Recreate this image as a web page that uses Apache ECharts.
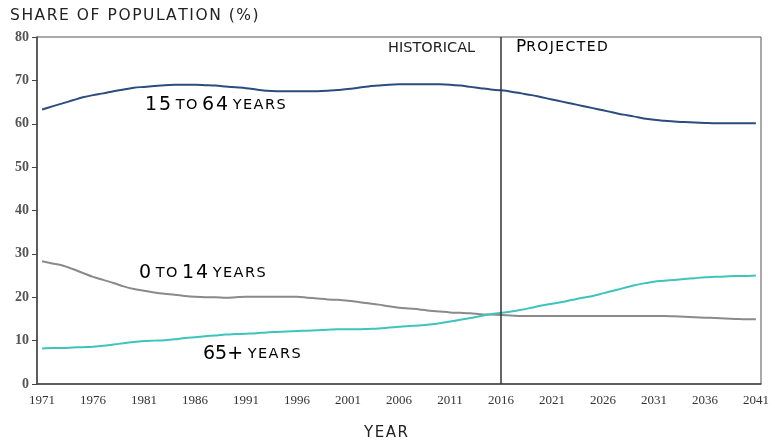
<!DOCTYPE html>
<html>
<head>
<meta charset="utf-8">
<title>Share of population</title>
<script src="https://cdn.jsdelivr.net/npm/echarts@6/dist/echarts.min.js"></script>
<style>
  html, body { margin: 0; padding: 0; background: #fff; }
  #main { width: 775px; height: 444px; }
</style>
</head>
<body>
<div id="main"></div>
<script>
var years = ['1971','1972','1973','1974','1975','1976','1977','1978','1979','1980',
  '1981','1982','1983','1984','1985','1986','1987','1988','1989','1990',
  '1991','1992','1993','1994','1995','1996','1997','1998','1999','2000',
  '2001','2002','2003','2004','2005','2006','2007','2008','2009','2010',
  '2011','2012','2013','2014','2015','2016','2017','2018','2019','2020',
  '2021','2022','2023','2024','2025','2026','2027','2028','2029','2030',
  '2031','2032','2033','2034','2035','2036','2037','2038','2039','2040','2041'];

var age15to64 = [63.3,64.0,64.7,65.4,66.1,66.6,67.0,67.5,67.9,68.3,
  68.5,68.7,68.9,69.0,69.0,69.0,68.9,68.8,68.6,68.4,
  68.2,67.9,67.6,67.5,67.5,67.5,67.5,67.5,67.6,67.8,
  68.0,68.3,68.6,68.8,69.0,69.1,69.1,69.1,69.1,69.1,
  69.0,68.8,68.5,68.2,67.9,67.7,67.4,67.0,66.6,66.1,
  65.6,65.1,64.6,64.1,63.6,63.1,62.6,62.1,61.7,61.2,
  60.9,60.7,60.5,60.4,60.3,60.2,60.1,60.1,60.1,60.1,60.1];

var age0to14 = [28.3,27.8,27.3,26.5,25.6,24.7,24.0,23.3,22.5,21.9,
  21.5,21.1,20.8,20.6,20.3,20.1,20.0,20.0,19.9,20.0,
  20.1,20.1,20.1,20.1,20.1,20.1,19.9,19.7,19.5,19.4,
  19.2,18.9,18.6,18.3,17.9,17.6,17.4,17.2,16.9,16.7,
  16.5,16.4,16.3,16.1,16.0,15.9,15.8,15.7,15.7,15.7,
  15.7,15.7,15.7,15.7,15.7,15.7,15.7,15.7,15.7,15.7,
  15.7,15.7,15.6,15.5,15.4,15.3,15.2,15.1,15.0,14.9,14.9];

var age65plus = [8.2,8.3,8.3,8.4,8.5,8.6,8.8,9.1,9.4,9.7,
  9.9,10.0,10.1,10.3,10.6,10.8,11.0,11.2,11.4,11.5,
  11.6,11.7,11.9,12.0,12.1,12.2,12.3,12.4,12.5,12.6,
  12.6,12.6,12.7,12.8,13.0,13.2,13.4,13.5,13.7,14.0,
  14.4,14.8,15.2,15.7,16.1,16.4,16.7,17.1,17.6,18.1,
  18.5,18.9,19.4,19.9,20.3,20.9,21.5,22.1,22.7,23.2,
  23.6,23.8,24.0,24.2,24.4,24.6,24.7,24.8,24.9,24.9,25.0];

var splitYear = '2016';

// the original uses a wide, letter-spaced font; hair spaces imitate that
function spaced(s) {
  return s.split('').join('\u200A');
}
var gap = '\u00A0';

var labelFont = 'DejaVu Sans';
var big = { fontFamily: labelFont, fontSize: 19, color: '#222' };
var small = { fontFamily: labelFont, fontSize: 14.5, color: '#222' };

var myChart = echarts.init(document.getElementById('main'), null, { renderer: 'canvas' });

var option = {
  animation: false,
  backgroundColor: '#fff',
  grid: {
    left: 37, right: 14, top: 37, bottom: 60,
    show: true, borderColor: '#555', borderWidth: 1
  },
  xAxis: {
    type: 'category',
    data: years,
    boundaryGap: true,
    axisLine: { lineStyle: { color: '#444', width: 1.5 } },
    axisTick: { interval: 0, length: 4, lineStyle: { color: '#444' } },
    axisLabel: {
      interval: 4,
      margin: 10,
      fontFamily: 'Liberation Serif',
      fontSize: 13,
      color: '#333'
    },
    splitLine: { show: false }
  },
  yAxis: {
    type: 'value',
    min: 0, max: 80, interval: 10,
    axisLine: { show: true, lineStyle: { color: '#444', width: 1.5 } },
    axisTick: { show: true, length: 5, lineStyle: { color: '#444' } },
    axisLabel: {
      margin: 8,
      fontFamily: 'Liberation Serif',
      fontSize: 14,
      fontWeight: 'bold',
      color: '#555'
    },
    splitLine: { show: false }
  },
  series: [
    {
      name: '15 to 64 years',
      type: 'line',
      data: age15to64,
      symbol: 'none',
      smooth: 0.3,
      lineStyle: { color: '#2b4c7e', width: 2 },
      markLine: {
        silent: true,
        symbol: 'none',
        label: { show: false },
        lineStyle: { color: '#333', width: 1.5, type: 'solid' },
        data: [{ xAxis: splitYear }]
      }
    },
    {
      name: '0 to 14 years',
      type: 'line',
      data: age0to14,
      symbol: 'none',
      smooth: 0.3,
      lineStyle: { color: '#8a8a8a', width: 2 }
    },
    {
      name: '65+ years',
      type: 'line',
      data: age65plus,
      symbol: 'none',
      smooth: 0.3,
      lineStyle: { color: '#3ec4bd', width: 2 }
    }
  ],
  graphic: [
    {
      type: 'text', left: 10, top: 8,
      style: { text: spaced('SHARE OF POPULATION (%)'), font: '15.5px "DejaVu Sans"', fill: '#222' }
    },
    {
      type: 'text', left: 145, top: 96,
      style: {
        text: '{b|' + spaced('15') + '}{s|' + gap + spaced('TO') + gap + '}{b|' + spaced('64') + '}{s|' + gap + spaced('YEARS') + '}',
        rich: { b: big, s: small }
      }
    },
    {
      type: 'text', left: 139, top: 264,
      style: {
        text: '{b|0}{s|' + gap + spaced('TO') + gap + '}{b|' + spaced('14') + '}{s|' + gap + spaced('YEARS') + '}',
        rich: { b: big, s: small }
      }
    },
    {
      type: 'text', left: 203, top: 345,
      style: {
        text: '{b|65+}{s|' + gap + spaced('YEARS') + '}',
        rich: { b: big, s: small }
      }
    },
    {
      type: 'text', left: 388, top: 41,
      style: { text: 'HISTORICAL', font: '14.5px "DejaVu Sans"', fill: '#222' }
    },
    {
      type: 'text', left: 516, top: 39,
      style: {
        text: '{b|P}{s|' + spaced('ROJECTED') + '}',
        rich: { b: { fontFamily: labelFont, fontSize: 17, color: '#222' }, s: { fontFamily: labelFont, fontSize: 14, color: '#222' } }
      }
    },
    {
      type: 'text', left: 364, top: 426,
      style: { text: spaced('YEAR'), font: '15px "DejaVu Sans"', fill: '#222' }
    }
  ]
};

myChart.setOption(option);
</script>
</body>
</html>
